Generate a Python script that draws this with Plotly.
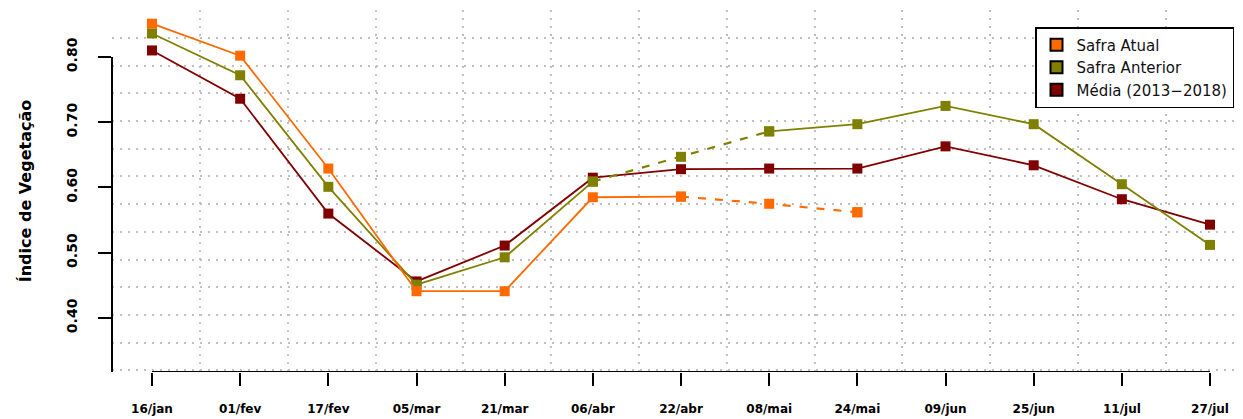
import plotly.graph_objects as go

# Índice de vegetação - composições de 16 dias
datas = ["16/jan", "01/fev", "17/fev", "05/mar", "21/mar", "06/abr", "22/abr",
         "08/mai", "24/mai", "09/jun", "25/jun", "11/jul", "27/jul"]

safra_atual = [0.851, 0.802, 0.629, 0.441, 0.441, 0.585, 0.586, 0.575, 0.562]
safra_anterior = [0.836, 0.772, 0.601, 0.451, 0.493, 0.609, 0.647, 0.686, 0.697,
                  0.725, 0.697, 0.605, 0.512]
media = [0.810, 0.736, 0.560, 0.456, 0.511, 0.615, 0.628, 0.629, 0.629,
         0.663, 0.634, 0.582, 0.543]

# trechos tracejados (indice inicial, indice final)
trecho_atual = (6, 8)
trecho_anterior = (5, 7)

y_ticks = [0.40, 0.50, 0.60, 0.70, 0.80]
y_range = [0.3172, 0.872]

cores = {'Safra Atual': '#FF6A00',
         'Safra Anterior': '#808000',
         'Média (2013−2018)': '#800000'}

fig = go.Figure()

# legenda (apenas quadrados, como no R)
for nome, cor in cores.items():
    fig.add_trace(go.Scatter(x=[None], y=[None], mode='markers', name=nome,
                             marker=dict(symbol='square', size=11, color=cor,
                                         line=dict(color='black', width=1.2))))


def add_serie(valores, cor, trecho=None):
    x = list(range(len(valores)))
    if trecho is None:
        y_solid, y_dash = valores, None
    else:
        a, b = trecho
        y_solid = [v if (i <= a or i >= b) else None for i, v in enumerate(valores)]
        y_dash = [v if a <= i <= b else None for i, v in enumerate(valores)]
    fig.add_trace(go.Scatter(x=x, y=y_solid, mode='lines+markers', showlegend=False,
                             line=dict(color=cor, width=1.8),
                             marker=dict(symbol='square', size=10, color=cor),
                             connectgaps=False, hoverinfo='y'))
    if y_dash is not None:
        fig.add_trace(go.Scatter(x=x, y=y_dash, mode='lines+markers', showlegend=False,
                                 line=dict(color=cor, width=2.2, dash='8px,9px'),
                                 marker=dict(symbol='square', size=10, color=cor),
                                 connectgaps=False, hoverinfo='y'))


add_serie(media, cores['Média (2013−2018)'])
add_serie(safra_anterior, cores['Safra Anterior'], trecho_anterior)
add_serie(safra_atual, cores['Safra Atual'], trecho_atual)

idx = list(range(len(datas)))

fig.update_layout(
    width=1235, height=411,
    margin=dict(l=104, r=0, t=2, b=47),
    template='none',
    plot_bgcolor='white', paper_bgcolor='white',
    font=dict(family='DejaVu Sans', color='black'),
    showlegend=True,
    legend=dict(x=(1035 - 112) / 1131, y=(372 - 27) / 362, xanchor='left', yanchor='top',
                bgcolor='white', bordercolor='black', borderwidth=1.5,
                font=dict(family='DejaVu Sans', size=15, color='#111111'),
                itemsizing='constant', tracegroupgap=0),
)

fig.update_xaxes(
    range=[-0.4537, 12.374], tickmode='array', tickvals=idx, ticktext=datas,
    ticks='outside', ticklen=13, tickwidth=2, tickcolor='black',
    tickfont=dict(family='DejaVu Sans', size=12, weight='bold', color='black'),
    ticklabelstandoff=13,
    showline=False, showgrid=False, zeroline=False, automargin=False,
    minor=dict(tickmode='linear', tick0=0.5444, dtick=0.9958, ticks='',
               showgrid=True, gridcolor='#c0c0c0', gridwidth=1.5, griddash='2px,6px'),
)

fig.update_yaxes(
    range=y_range, tickmode='array', tickvals=y_ticks,
    ticktext=['%.2f' % v for v in y_ticks], tickangle=-90,
    ticks='outside', ticklen=13, tickwidth=2, tickcolor='black',
    tickfont=dict(family='DejaVu Sans', size=14, weight='bold', color='black'),
    ticklabelstandoff=15,
    title=dict(text='Índice de Vegetação',
               font=dict(family='DejaVu Sans', size=16, weight='bold', color='black'),
               standoff=28),
    showline=False, showgrid=False, zeroline=False, automargin=False,
    minor=dict(tickmode='linear', tick0=0.8291, dtick=0.04245, ticks='',
               showgrid=True, gridcolor='#c0c0c0', gridwidth=1.5, griddash='2px,6px'),
)

# eixos no estilo R: linha apenas entre os ticks
fig.add_shape(type='line', xref='x', yref='y', x0=idx[0], x1=idx[-1],
              y0=y_range[0], y1=y_range[0], line=dict(color='black', width=2))
fig.add_shape(type='line', xref='paper', yref='y', x0=0, x1=0,
              y0=y_range[0], y1=y_ticks[-1], line=dict(color='black', width=2))

fig.write_html("out.html")
